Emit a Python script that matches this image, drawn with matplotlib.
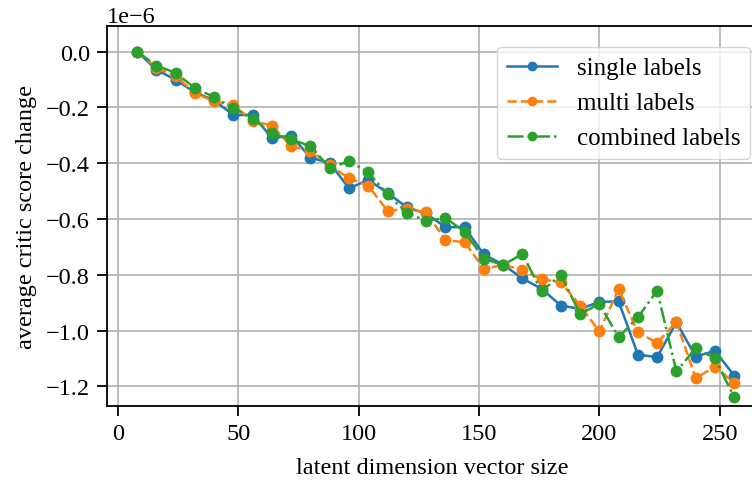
import numpy as np
import matplotlib
matplotlib.use("Agg")
import matplotlib.pyplot as plt

# latent sizes and critic score changes (units of 1e-6)
latent_size = list(range(8, 257, 8))

single_labels = [0, -0.065, -0.101, -0.146, -0.175, -0.227, -0.227, -0.310,
                 -0.301, -0.380, -0.399, -0.490, -0.460, -0.506, -0.558, -0.580,
                 -0.629, -0.629, -0.727, -0.763, -0.813, -0.850, -0.910, -0.922,
                 -0.897, -0.895, -1.086, -1.095, -0.970, -1.093, -1.072, -1.161]

multi_labels = [0, -0.058, -0.088, -0.149, -0.178, -0.193, -0.247, -0.266,
                -0.339, -0.355, -0.408, -0.454, -0.481, -0.570, -0.565, -0.576,
                -0.675, -0.683, -0.778, -0.765, -0.781, -0.816, -0.827, -0.910,
                -1.003, -0.851, -1.006, -1.044, -0.968, -1.171, -1.129, -1.187]

combined_labels = [0, -0.050, -0.076, -0.131, -0.163, -0.203, -0.240, -0.293,
                   -0.314, -0.339, -0.417, -0.393, -0.432, -0.512, -0.578, -0.606,
                   -0.596, -0.645, -0.742, -0.765, -0.725, -0.859, -0.800, -0.940,
                   -0.904, -1.024, -0.952, -0.857, -1.146, -1.063, -1.099, -1.239]

plt.rcParams['font.family'] = ['Liberation Serif', 'DejaVu Serif']
plt.rcParams['font.size'] = 17.5

fig = plt.figure(figsize=(7.52, 4.89), dpi=100)
ax = fig.add_axes([0.1427, 0.1683, 0.8653, 0.7771])

x = np.array(latent_size)
ax.plot(x, np.array(single_labels) * 1e-6, '-o', color='#1f77b4', lw=1.8, ms=7.5,
        label='single labels')
ax.plot(x, np.array(multi_labels) * 1e-6, '--o', color='#ff7f0e', lw=1.8, ms=7.5,
        label='multi labels')
ax.plot(x, np.array(combined_labels) * 1e-6, '-.o', color='#2ca02c', lw=1.8, ms=7.5,
        label='combined labels')

ax.set_xlim(-4.4, 265.9)
ax.set_ylim(-1.269e-6, 0.093e-6)
ax.set_xticks([0, 50, 100, 150, 200, 250])
ax.grid(True, color='#b0b0b0', lw=1.2)
ax.set_axisbelow(True)
for s in ax.spines.values():
    s.set_linewidth(1.3)
ax.tick_params(width=1.3, length=7, pad=5.5)

ax.set_xlabel('latent dimension vector size', labelpad=9)
ax.set_ylabel('average critic score change', labelpad=6)
ax.legend(loc='upper right', bbox_to_anchor=(0.9877, 0.944), borderaxespad=0,
          markerscale=0.8, fontsize=18)

fig.savefig('out.png', dpi=100)
